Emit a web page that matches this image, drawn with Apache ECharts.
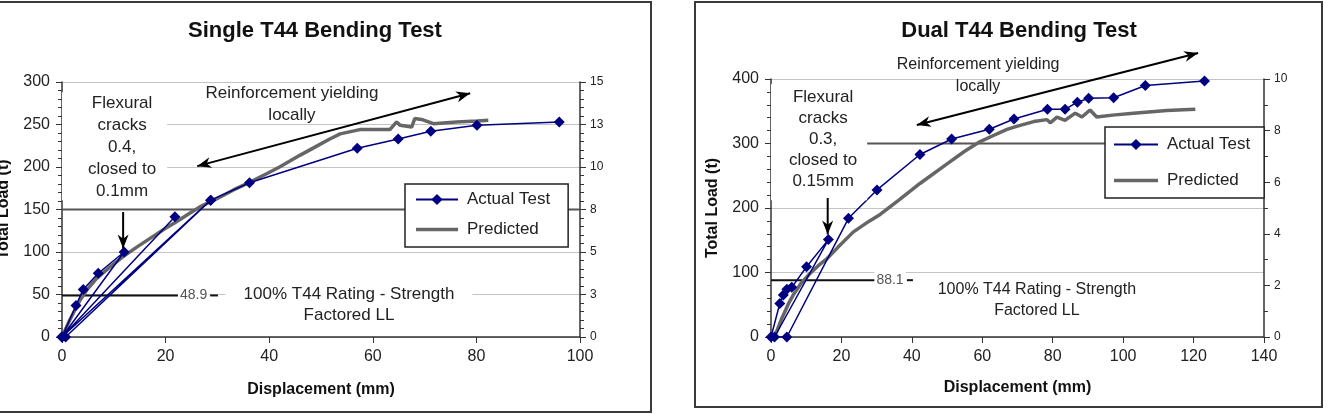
<!DOCTYPE html>
<html><head><meta charset="utf-8">
<script src="https://cdn.jsdelivr.net/npm/echarts@6/dist/echarts.min.js"></script>
<style>html,body{margin:0;padding:0;background:#fff}#c{width:1338px;height:414px}</style>
</head><body><div id="c"></div>
<script>
// ---------- data ----------
const singleActual = [[0,0],[2.7,37],[4.1,56],[7.0,75],[12.0,100],[0,0],[21.8,141.5],[0,0],[28.7,161],[0.7,0],[28.7,161],[36.2,181.5],[57.0,222],[64.9,233],[71.2,242],[80.1,249],[96.0,253]];
const singlePredicted = [[0,0],[1.5,20],[3.5,43.5],[5,57],[6.7,69],[9,81],[11.8,94.5],[14.5,106],[17.0,116],[20,128],[22.1,135.6],[24.5,145],[26.6,153],[30,163],[33.1,173],[36.2,182],[39.5,192],[42,200],[46,214],[49,224],[51.7,233],[53.7,239],[57.5,244],[61,244],[63.3,244],[64.6,253],[65.3,249],[67.5,247],[68.1,257],[69.4,256],[71.7,251],[76.2,253],[80.1,254],[82.3,255]];
const dualActual = [[0,0],[2.5,52],[3.5,65],[4.5,74],[5.9,77],[10.1,109],[16.3,151],[1.0,0],[4.5,0],[22.0,184],[30.1,228],[42.3,283],[51.3,307],[62.0,322],[69.0,338],[78.5,353],[83.5,353],[87.0,364],[90.2,370],[97.3,371],[106.3,390],[123.1,397]];
const dualPredicted = [[1,0],[3,28],[5,52],[6.3,65],[8.5,83],[11,98],[13.5,111],[16,122],[19,139],[23.4,163],[28,180],[31,190],[36.2,212],[42.3,238],[49.9,268],[55,288],[59.4,303],[63,312],[67,322],[70,327],[74.6,334],[78.4,337],[79.3,332],[81.2,341],[83.5,336],[86.4,347],[88.3,341],[90.6,352],[92.5,341],[97,344],[102.9,347],[112.4,351],[120.5,353]];
const singleRatingLoad = 48.9;
const dualRatingLoad = 88.1;
const singleRefLoad = 150;
const dualRefLoad = 300;
const titles = ['Single T44 Bending Test', 'Dual T44 Bending Test'];
const xName = 'Displacement (mm)';
const yName = 'Total Load (t)';
const legendNames = ['Actual Test', 'Predicted'];

// ---------- chart ----------
const FONT = 'Liberation Sans, Arial, sans-serif';
const chart = echarts.init(document.getElementById('c'), null, {renderer: 'canvas'});

function xAxis(gi, max, nameGap) {
  return {type:'value', gridIndex:gi, min:0, max:max, interval:20,
    name:xName, nameLocation:'middle', nameGap:nameGap,
    nameTextStyle:{fontFamily:FONT, fontSize:16, fontWeight:'bold', color:'#111'},
    axisLine:{show:true, onZero:false, lineStyle:{color:'#333', width:1.5}},
    axisTick:{show:true, length:6, lineStyle:{color:'#333'}},
    axisLabel:{fontFamily:FONT, fontSize:16, color:'#222', margin:12},
    splitLine:{show:false}};
}
function yLeft(gi, max, interval) {
  return {type:'value', gridIndex:gi, position:'left', min:0, max:max, interval:interval,
    name:yName, nameLocation:'middle', nameGap:50,
    nameTextStyle:{fontFamily:FONT, fontSize:16, fontWeight:'bold', color:'#111'},
    axisLine:{show:true, onZero:false, lineStyle:{color:'#333', width:1.5}},
    axisTick:{show:true, length:6, lineStyle:{color:'#333'}},
    minorTick:{show:true, splitNumber:5, length:4, lineStyle:{color:'#333'}},
    axisLabel:{fontFamily:FONT, fontSize:16, color:'#222', margin:12},
    splitLine:{show:true, lineStyle:{color:'#c4c4c4', width:1}},
    minorSplitLine:{show:false}};
}
function yRight(gi, max, interval, minorSplit) {
  return {type:'value', gridIndex:gi, position:'right', min:0, max:max, interval:interval,
    axisLine:{show:true, onZero:false, lineStyle:{color:'#333', width:1.5}},
    axisTick:{show:true, length:6, lineStyle:{color:'#333'}},
    minorTick:{show:true, splitNumber:minorSplit, length:4, lineStyle:{color:'#333'}},
    axisLabel:{fontFamily:FONT, fontSize:12, color:'#222', margin:10, formatter:v => String(Math.round(v))},
    splitLine:{show:false}};
}
function actual(data, xi, yi) {
  return {name:'Actual Test', type:'line', xAxisIndex:xi, yAxisIndex:yi, data:data,
    symbol:'diamond', symbolSize:11, showAllSymbol:true,
    lineStyle:{color:'#000080', width:1.5}, itemStyle:{color:'#000080'}, z:6, animation:false};
}
function predicted(data, xi, yi) {
  return {name:'Predicted', type:'line', xAxisIndex:xi, yAxisIndex:yi, data:data,
    symbol:'none', lineStyle:{color:'#666666', width:3.5}, itemStyle:{color:'#666666'}, z:5, animation:false};
}
function hline(data, xi, yi, color, width) {
  return {type:'line', xAxisIndex:xi, yAxisIndex:yi, data:data, symbol:'none', silent:true,
    lineStyle:{color:color, width:width}, z:3, animation:false};
}
function legend(left, top, itemWidth, itemGap, padding) {
  return {data:[{name:legendNames[0]}, {name:legendNames[1], icon:'path://M0,0H42V3.5H0Z', itemStyle:{color:'#666666'}}],
    orient:'vertical', left:left, top:top, itemWidth:itemWidth, itemHeight:14,
    itemGap:itemGap, padding:padding, borderColor:'#222', borderWidth:1.5, backgroundColor:'#fff',
    selectedMode:false, z:20, symbolKeepAspect:true,
    textStyle:{fontFamily:FONT, fontSize:17, color:'#222', padding:[0,0,0,4]}};
}

chart.setOption({
  animation:false,
  backgroundColor:'#fff',
  grid:[
    {left:62, top:82, width:518, height:255, containLabel:false, outerBoundsMode:'none'},
    {left:771, top:79, width:493, height:258, containLabel:false, outerBoundsMode:'none'}
  ],
  xAxis:[xAxis(0, 100, 45), xAxis(1, 140, 43)],
  yAxis:[yLeft(0, 300, 50), yRight(0, 15, 2.5, 5), yLeft(1, 400, 100), yRight(1, 10, 2, 2)],
  legend:[legend(405, 184, 42, 13, [7,18,9,10]), legend(1105, 127, 44, 19, [9,14,9,8])],
  series:[
    hline([[0, singleRefLoad],[100, singleRefLoad]], 0, 0, '#555', 2),
    hline([[0, singleRatingLoad],[22.4, singleRatingLoad]], 0, 0, '#111', 2),
    hline([[28.6, singleRatingLoad],[30.1, singleRatingLoad]], 0, 0, '#111', 2),
    predicted(singlePredicted, 0, 0),
    actual(singleActual, 0, 0),
    hline([[0, dualRefLoad],[140, dualRefLoad]], 1, 2, '#555', 2),
    hline([[0, dualRatingLoad],[29.5, dualRatingLoad]], 1, 2, '#111', 2),
    hline([[38.6, dualRatingLoad],[40.3, dualRatingLoad]], 1, 2, '#111', 2),
    predicted(dualPredicted, 1, 2),
    actual(dualActual, 1, 2)
  ]
});

// ---------- annotations (placed in data coordinates) ----------
const P0 = p => chart.convertToPixel({seriesIndex:4}, p);
const P1 = p => chart.convertToPixel({seriesIndex:9}, p);

function txt(pt, text, opts) {
  return Object.assign({type:'text', x:pt[0], y:pt[1], z:100, silent:true,
    style:Object.assign({text:text, align:'center', verticalAlign:'middle',
      font:'17px ' + FONT, fill:'#222', lineHeight:22}, opts || {})});
}
function whiteRect(a, b) {
  return {type:'rect', z:90, silent:true,
    shape:{x:Math.min(a[0],b[0]), y:Math.min(a[1],b[1]), width:Math.abs(b[0]-a[0]), height:Math.abs(b[1]-a[1])},
    style:{fill:'#fff'}};
}
function head(tip, from, len, w) {
  const dx = tip[0]-from[0], dy = tip[1]-from[1];
  const L = Math.hypot(dx, dy), ux = dx/L, uy = dy/L;
  const bx = tip[0]-ux*len, by = tip[1]-uy*len;
  const nx = -uy*w/2, ny = ux*w/2;
  return {type:'polygon', z:100, silent:true,
    shape:{points:[[tip[0],tip[1]],[bx+nx,by+ny],[tip[0]-ux*len*0.7,tip[1]-uy*len*0.7],[bx-nx,by-ny]]},
    style:{fill:'#000'}};
}
function arrow(a, b, both) {
  const els = [{type:'line', z:100, silent:true, shape:{x1:a[0],y1:a[1],x2:b[0],y2:b[1]},
    style:{stroke:'#000', lineWidth:2}}];
  els.push(head(b, a, 14, 11));
  if (both) els.push(head(a, b, 14, 11));
  return els;
}

const g = [];
// frames
g.push({type:'polyline', z:110, silent:true, shape:{points:[[0,2],[651,2],[651,412],[0,412]]}, style:{stroke:'#3a3a3a', lineWidth:2, fill:null}});
g.push({type:'rect', z:110, silent:true, shape:{x:695, y:2, width:627, height:405}, style:{stroke:'#3a3a3a', lineWidth:2, fill:null}});
// titles
g.push({type:'text', x:315, y:31, z:100, silent:true, style:{text:titles[0], align:'center', verticalAlign:'middle', font:'bold 22px ' + FONT, fill:'#111'}});
g.push({type:'text', x:1019, y:31, z:100, silent:true, style:{text:titles[1], align:'center', verticalAlign:'middle', font:'bold 22px ' + FONT, fill:'#111'}});

// single chart
g.push(whiteRect(P0([0,288]), P0([20.3,161])));
g.push(txt(P0([11.6,223.5]), 'Flexural\ncracks\n0.4,\nclosed to\n0.1mm'));
g.push(...arrow(P0([11.8,147]), P0([11.8,104]), false));
g.push(txt(P0([44.4,274]), 'Reinforcement yielding\nlocally', {lineHeight:22}));
g.push(...arrow(P0([26.1,201]), P0([78.8,286.7]), true));
g.push(txt(P0([55.4,38.2]), '100% T44 Rating - Strength\nFactored LL', {lineHeight:21, backgroundColor:'#fff', padding:[0,18]}));
g.push(txt(P0([25.4,singleRatingLoad]), String(singleRatingLoad), {font:'14px ' + FONT, fill:'#555', backgroundColor:'#fff', padding:[0,2]}));

// dual chart
g.push(whiteRect(P1([0,392]), P1([27.3,212])));
g.push(txt(P1([14.8,307]), 'Flexural\ncracks\n0.3,\nclosed to\n0.15mm', {lineHeight:21}));
g.push(...arrow(P1([16.1,215.5]), P1([16.1,159]), false));
g.push(txt(P1([58.8,404.6]), 'Reinforcement yielding\nlocally', {font:'16px ' + FONT, lineHeight:22}));
g.push(...arrow(P1([41.4,328.7]), P1([121.3,440.3]), true));
g.push(txt(P1([75.5,57.4]), '100% T44 Rating - Strength\nFactored LL', {font:'16px ' + FONT, lineHeight:21}));
g.push(txt(P1([33.8,dualRatingLoad]), String(dualRatingLoad), {font:'14px ' + FONT, fill:'#555', backgroundColor:'#fff', padding:[0,2]}));

chart.setOption({graphic:{elements:g}});
</script>
</body></html>
